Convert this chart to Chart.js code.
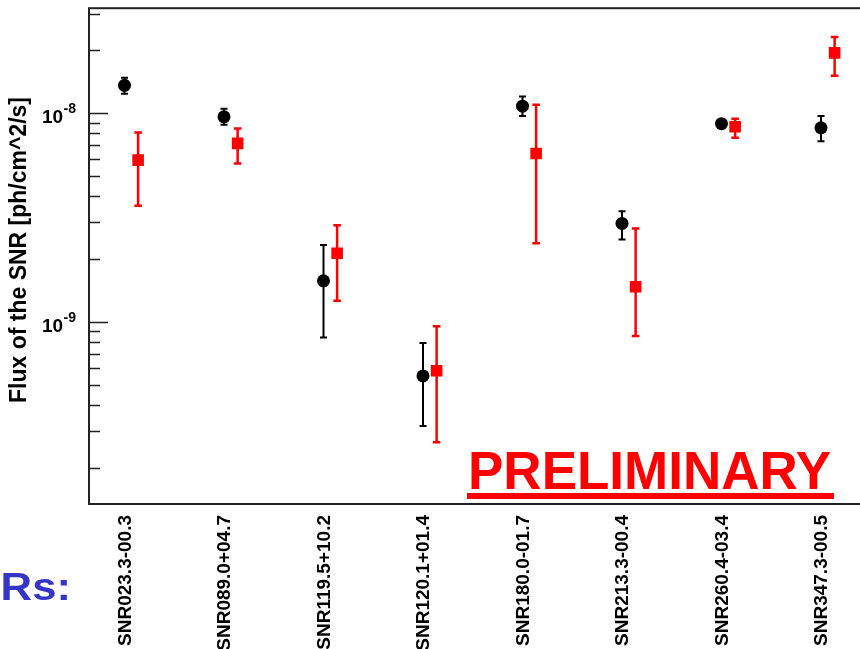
<!DOCTYPE html>
<html>
<head>
<meta charset="utf-8">
<script src="https://cdn.jsdelivr.net/npm/chart.js@4.4.0/dist/chart.umd.min.js"></script>
<style>
  html, body { margin: 0; padding: 0; background: #fff; overflow: hidden; }
  #wrap { position: relative; width: 860px; height: 649px; overflow: hidden; }
  #wrap canvas { position: absolute; left: 0; top: 0; }
</style>
</head>
<body>
<div id="wrap"><canvas id="c" width="900" height="649"></canvas></div>
<script>
// Supernova remnants on the horizontal axis
const remnants = [
  'SNR023.3-00.3', 'SNR089.0+04.7', 'SNR119.5+10.2', 'SNR120.1+01.4',
  'SNR180.0-01.7', 'SNR213.3-00.4', 'SNR260.4-03.4', 'SNR347.3-00.5'
];

// First flux estimate (black circles), ph/cm^2/s
const blackFlux = [1.36e-8, 9.6e-9, 1.57e-9, 5.5e-10, 1.08e-8, 2.96e-9, 8.9e-9, 8.5e-9];
const blackLow  = [1.24e-8, 8.8e-9, 8.4e-10, 3.16e-10, 9.7e-9, 2.48e-9, 8.65e-9, 7.34e-9];
const blackHigh = [1.48e-8, 1.05e-8, 2.33e-9, 7.9e-10, 1.2e-8, 3.39e-9, 9.15e-9, 9.7e-9];

// Second flux estimate (red squares), ph/cm^2/s
const redFlux = [5.95e-9, 7.16e-9, 2.13e-9, 5.82e-10, 6.41e-9, 1.47e-9, 8.6e-9, 1.945e-8];
const redLow  = [3.6e-9, 5.74e-9, 1.26e-9, 2.64e-10, 2.38e-9, 8.54e-10, 7.62e-9, 1.51e-8];
const redHigh = [8.08e-9, 8.44e-9, 2.9e-9, 9.5e-10, 1.096e-8, 2.8e-9, 9.4e-9, 2.32e-8];

// Decade labels on the flux axis: mantissa base and exponent
const decadeValues = [1e-9, 1e-8];
const decadeExponents = ['-9', '-8'];
// Minor tick multipliers inside each decade
const minorSteps = [2, 3, 4, 5, 6, 7, 8, 9];
const minorDecades = [1e-10, 1e-9, 1e-8];

const redShift = 0.137;   // horizontal offset of the second estimate
const FONT = '"Liberation Sans", Arial, Helvetica, sans-serif';

const errorBars = {
  id: 'errorBars',
  beforeDatasetsDraw(chart) {
    const ctx = chart.ctx, xs = chart.scales.x, ys = chart.scales.y;
    const draw = (shift, low, high, color, lw, cap) => {
      ctx.save();
      ctx.strokeStyle = color;
      ctx.lineWidth = lw;
      for (let i = 0; i < low.length; i++) {
        const x = xs.getPixelForValue(i + shift);
        const y1 = ys.getPixelForValue(low[i]);
        const y2 = ys.getPixelForValue(high[i]);
        ctx.beginPath();
        ctx.moveTo(x, y1); ctx.lineTo(x, y2);
        ctx.moveTo(x - cap, y1); ctx.lineTo(x + cap, y1);
        ctx.moveTo(x - cap, y2); ctx.lineTo(x + cap, y2);
        ctx.stroke();
      }
      ctx.restore();
    };
    draw(0, blackLow, blackHigh, '#000', 2, 3.5);
    draw(redShift, redLow, redHigh, '#ff0000', 2.5, 3.8);
  }
};

const frameAndText = {
  id: 'frameAndText',
  afterDraw(chart) {
    const ctx = chart.ctx, a = chart.chartArea, xs = chart.scales.x, ys = chart.scales.y;
    ctx.save();

    // Frame
    ctx.strokeStyle = '#222';
    ctx.lineWidth = 2;
    ctx.strokeRect(a.left, a.top, a.right - a.left, a.bottom - a.top);

    // Inward tick marks on the flux axis
    ctx.lineWidth = 1.6;
    ctx.beginPath();
    minorDecades.forEach(d => minorSteps.forEach(m => {
      const v = d * m;
      if (v < ys.min || v > ys.max) return;
      const y = Math.round(ys.getPixelForValue(v)) + 0.5;
      ctx.moveTo(a.left, y); ctx.lineTo(a.left + 11, y);
    }));
    decadeValues.forEach(v => {
      const y = Math.round(ys.getPixelForValue(v)) + 0.5;
      ctx.moveTo(a.left, y); ctx.lineTo(a.left + 19, y);
    });
    ctx.stroke();

    // Decade labels 10^n
    ctx.fillStyle = '#000';
    ctx.textBaseline = 'alphabetic';
    decadeValues.forEach((v, k) => {
      const y = ys.getPixelForValue(v);
      ctx.font = 'bold 19px ' + FONT;
      ctx.textAlign = 'left';
      ctx.fillText('10', 42, y + 10);
      ctx.font = 'bold 14px ' + FONT;
      ctx.fillText(decadeExponents[k], 63.5, y);
    });

    // Axis title
    ctx.save();
    ctx.translate(20, 250);
    ctx.rotate(-Math.PI / 2);
    ctx.font = 'bold 23px ' + FONT;
    ctx.textAlign = 'center';
    ctx.textBaseline = 'middle';
    ctx.fillText('Flux of the SNR [ph/cm^2/s]', 0, 0);
    ctx.restore();

    // Remnant names, vertical
    ctx.font = 'bold 19px ' + FONT;
    remnants.forEach((name, i) => {
      const x = xs.getPixelForValue(i);
      ctx.save();
      ctx.translate(x + 1, a.bottom + 11);
      ctx.rotate(-Math.PI / 2);
      ctx.textAlign = 'right';
      ctx.textBaseline = 'middle';
      ctx.fillText(name, 0, 0);
      ctx.restore();
    });

    // PRELIMINARY stamp
    ctx.fillStyle = '#ff0000';
    ctx.font = 'bold 53px ' + FONT;
    ctx.textAlign = 'left';
    ctx.textBaseline = 'alphabetic';
    ctx.fillText('PRELIMINARY', 468, 489);
    ctx.fillRect(467, 493, 367, 6);

    // Slide heading fragment
    ctx.save();
    ctx.fillStyle = '#3535c8';
    ctx.font = 'bold 38px ' + FONT;
    ctx.textAlign = 'right';
    ctx.translate(71, 600);
    ctx.scale(1.15, 1);
    ctx.fillText('SNRs:', 0, 0);
    ctx.restore();

    ctx.restore();
  }
};

new Chart(document.getElementById('c'), {
  type: 'scatter',
  data: {
    datasets: [
      {
        label: 'black',
        data: blackFlux.map((v, i) => ({ x: i, y: v })),
        pointStyle: 'circle',
        pointRadius: 6.5,
        backgroundColor: '#000',
        borderColor: '#000',
        borderWidth: 0
      },
      {
        label: 'red',
        data: redFlux.map((v, i) => ({ x: i + redShift, y: v })),
        pointStyle: 'rect',
        pointRadius: 8.2,
        backgroundColor: '#ff0000',
        borderColor: '#ff0000',
        borderWidth: 0
      }
    ]
  },
  options: {
    responsive: false,
    animation: false,
    devicePixelRatio: 1,
    layout: { padding: { left: 89, top: 8, right: 20, bottom: 145 } },
    plugins: { legend: { display: false }, tooltip: { enabled: false } },
    scales: {
      x: { type: 'linear', display: false, min: -0.3568, max: 7.593 },
      y: { type: 'logarithmic', display: false, min: 1.337e-10, max: 3.185e-8 }
    }
  },
  plugins: [errorBars, frameAndText]
});
</script>
</body>
</html>
